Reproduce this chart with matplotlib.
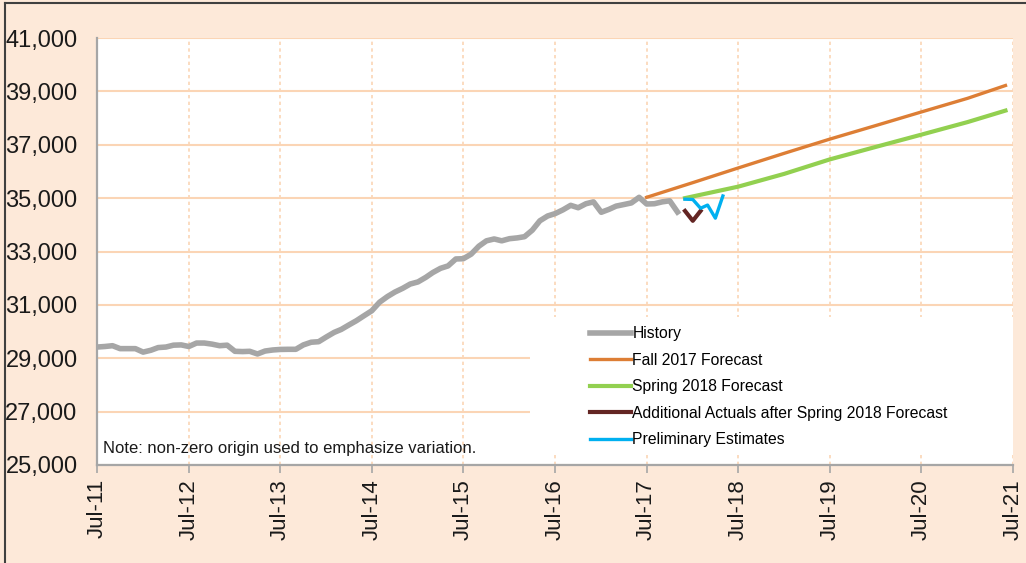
import numpy as np
import pandas as pd
import matplotlib
matplotlib.use("Agg")
import matplotlib.pyplot as plt
from matplotlib.lines import Line2D
from matplotlib.patches import Rectangle
from matplotlib.ticker import FuncFormatter

plt.rcParams['font.family'] = ['Liberation Sans', 'DejaVu Sans']

# History, monthly from Jul-11 to Nov-17
history = [29420, 29440, 29470, 29360, 29360, 29360, 29230, 29300, 29400, 29420,
           29490, 29500, 29440, 29570, 29570, 29530, 29470, 29490, 29260, 29250,
           29260, 29160, 29270, 29310, 29330, 29335, 29335, 29500, 29600, 29620,
           29800, 29970, 30080, 30250, 30410, 30600, 30780, 31100, 31310, 31480,
           31620, 31780, 31860, 32030, 32210, 32370, 32460, 32720, 32730, 32900,
           33200, 33400, 33470, 33400, 33480, 33510, 33555, 33800, 34150, 34330,
           34420, 34560, 34730, 34640, 34790, 34860, 34470, 34580, 34700, 34760,
           34820, 35030, 34780, 34790, 34860, 34900, 34480]
history_dates = pd.date_range('2011-07-01', periods=len(history), freq='MS')

fall_dates = pd.to_datetime(['2017-07-01', '2018-01-01', '2018-07-01', '2019-01-01', '2019-07-01',
                             '2020-01-01', '2020-07-01', '2021-01-01', '2021-06-01'])
fall_2017 = [35030, 35580, 36130, 36680, 37210, 37720, 38230, 38740, 39220]

spring_dates = pd.to_datetime(['2017-12-01', '2018-07-01', '2019-01-01', '2019-07-01',
                               '2020-01-01', '2020-07-01', '2021-01-01', '2021-06-01'])
spring_2018 = [35000, 35430, 35910, 36450, 36920, 37380, 37850, 38280]

actual_dates = pd.to_datetime(['2017-12-01', '2018-01-01', '2018-02-01'])
additional_actuals = [34520, 34150, 34520]

prelim_dates = pd.date_range('2017-12-01', periods=6, freq='MS')
preliminary = [34960, 34950, 34620, 34740, 34250, 35080]

years = list(range(2011, 2022))
tick_labels = [f'Jul-{y % 100:02d}' for y in years]

bg = '#FDE9D9'
grid_col = '#FBD5B5'

fig = plt.figure(figsize=(10.26, 5.63), dpi=100, facecolor=bg)
ax = fig.add_axes([97 / 1026, 1 - 465 / 563, 916 / 1026, 427 / 563])
ax.set_facecolor('white')

# Plot lines
ax.plot(history_dates, history, color='#A6A6A6', lw=4, label='History', zorder=4)
ax.plot(fall_dates, fall_2017, color='#DD7E35', lw=2.4, label='Fall 2017 Forecast', zorder=4)
ax.plot(spring_dates, spring_2018, color='#92D050', lw=3, label='Spring 2018 Forecast', zorder=4)
ax.plot(actual_dates, additional_actuals, color='#632523', lw=3,
        label='Additional Actuals after Spring 2018 Forecast', zorder=5)
ax.plot(prelim_dates, preliminary, color='#00B0F0', lw=2.4, label='Preliminary Estimates', zorder=5)

ax.set_xlim(pd.Timestamp('2011-07-01'), pd.Timestamp('2021-07-01'))
ax.set_ylim(25000, 41000)
ax.set_yticks(range(25000, 41001, 2000))
ax.yaxis.set_major_formatter(FuncFormatter(lambda v, p: f'{int(v):,}'))
ax.set_xticks([pd.Timestamp(f'{y}-07-01') for y in years])
ax.set_xticklabels(tick_labels, rotation=90)

ax.tick_params(axis='y', length=0, pad=14, labelsize=17, colors='#1a1a1a')
ax.tick_params(axis='x', length=6, width=1.2, color='#A6A6A6', pad=4, labelsize=16,
               labelcolor='#1a1a1a', direction='out')

ax.grid(axis='y', color=grid_col, lw=1.5, ls='-', zorder=0)
ax.grid(axis='x', color=grid_col, lw=1.2, ls=(0, (2, 2)), zorder=0)
ax.set_axisbelow(True)

for s in ['top', 'right']:
    ax.spines[s].set_visible(False)
for s in ['left', 'bottom']:
    ax.spines[s].set_color('#A6A6A6')
    ax.spines[s].set_linewidth(1.6)

# white box behind legend
ax.add_patch(Rectangle((0.4727, 0.0234), 0.5273, 0.3232, transform=ax.transAxes,
                       facecolor='white', edgecolor='none', zorder=2))

leg = ax.legend(loc='upper left', bbox_to_anchor=(590 / 1026, 1 - 326 / 563),
                bbox_transform=fig.transFigure, frameon=False, fontsize=11.3,
                handlelength=2.6, handletextpad=0.1, labelspacing=0.74,
                borderpad=0, borderaxespad=0)
leg.set_zorder(6)

ax.text(0.0066, 0.0375, 'Note: non-zero origin used to emphasize variation.',
        transform=ax.transAxes, fontsize=12, va='center', ha='left', color='#1a1a1a', zorder=6)

# figure frame (left and top edges)
fig.add_artist(Line2D([5 / 1026, 5 / 1026], [0, 1 - 3 / 563], color='#404040', lw=1.5,
                      transform=fig.transFigure))
fig.add_artist(Line2D([5 / 1026, 1], [1 - 3 / 563, 1 - 3 / 563], color='#404040', lw=1.5,
                      transform=fig.transFigure))

plt.savefig('out.png', dpi=100, facecolor=bg)
plt.close()
